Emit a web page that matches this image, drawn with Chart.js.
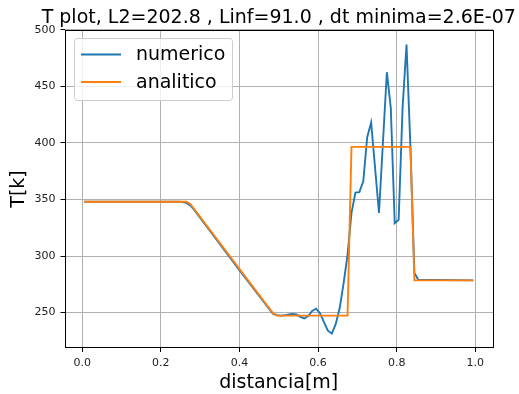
<!DOCTYPE html>
<html>
<head>
<meta charset="utf-8">
<script src="https://cdn.jsdelivr.net/npm/chart.js@4"></script>
<style>
  html, body { margin: 0; padding: 0; background: #fff; }
  canvas { display: block; }
</style>
</head>
<body>
<canvas id="grafico" width="519" height="394"></canvas>
<script>
// dados
var numericoX = [0.005, 0.245, 0.255, 0.265, 0.275, 0.285, 0.4, 0.485, 0.495, 0.505, 0.515, 0.525, 0.535, 0.545,
  0.555, 0.565, 0.575, 0.585, 0.595, 0.605, 0.615, 0.625, 0.635, 0.645, 0.655, 0.665, 0.675, 0.685, 0.695,
  0.705, 0.715, 0.725, 0.735, 0.755, 0.775, 0.785, 0.795, 0.805, 0.815, 0.825, 0.835, 0.845, 0.855, 0.995];
var numericoT = [348, 348, 347.7, 347, 344.8, 340.8, 287.5, 249, 247.8, 247.3, 247.6, 248.3, 248.8, 248.3,
  246.3, 244.8, 247, 251.5, 253.5, 249.5, 241.5, 234, 231.5, 240, 254, 276, 301, 338, 356,
  356.5, 366, 405, 418, 338, 462.5, 431, 329, 332, 431, 487, 396, 285, 279, 278.5];

var analiticoX = [0.005, 0.265, 0.275, 0.485, 0.495, 0.675, 0.685, 0.835, 0.845, 0.995];
var analiticoT = [348, 348, 346, 249.5, 247.3, 247.3, 396.5, 396.5, 278.5, 278.5];

var ticksX = [0.0, 0.2, 0.4, 0.6, 0.8, 1.0];
var ticksY = [250, 300, 350, 400, 450, 500];

var titulo = "T plot, L2=202.8 , Linf=91.0 , dt minima=2.6E-07";
var nomes = ["numerico", "analitico"];
var cores = ["#1f77b4", "#ff7f0e"];

function pontos(xs, ys) {
  return xs.map((x, i) => ({ x: x, y: ys[i] }));
}

Chart.defaults.font.family = "'DejaVu Sans', sans-serif";
Chart.defaults.color = "#000";

// titulo, moldura (4 lados) e legenda no estilo matplotlib
var molduraLegenda = {
  id: "molduraLegenda",
  afterDraw(chart) {
    var ctx = chart.ctx;
    var a = chart.chartArea;
    ctx.save();
    ctx.strokeStyle = "#000";
    ctx.lineWidth = 1;
    ctx.strokeRect(Math.round(a.left) + 0.5, Math.round(a.top) + 0.5,
      Math.round(a.right - a.left) - 1, Math.round(a.bottom - a.top) - 1);

    // titulo centrado sobre a area do grafico
    ctx.font = "19px 'DejaVu Sans'";
    ctx.fillStyle = "#000";
    ctx.textAlign = "center";
    ctx.textBaseline = "alphabetic";
    ctx.fillText(titulo, (a.left + a.right) / 2, 23);

    // caixa da legenda
    ctx.beginPath();
    ctx.roundRect(74.5, 38.5, 158, 62, 3);
    ctx.fillStyle = "rgba(255,255,255,0.8)";
    ctx.fill();
    ctx.strokeStyle = "#cccccc";
    ctx.stroke();

    ctx.textAlign = "left";
    ctx.textBaseline = "middle";
    for (var i = 0; i < nomes.length; i++) {
      var y = 54.5 + i * 27.5;
      ctx.beginPath();
      ctx.moveTo(81, y);
      ctx.lineTo(121, y);
      ctx.strokeStyle = cores[i];
      ctx.lineWidth = 1.9;
      ctx.stroke();
      ctx.fillStyle = "#000";
      ctx.fillText(nomes[i], 136, y + 1);
    }
    ctx.restore();
  },
};

new Chart(document.getElementById("grafico"), {
  type: "line",
  data: {
    datasets: [
      {
        label: nomes[0],
        data: pontos(numericoX, numericoT),
        borderColor: cores[0],
        backgroundColor: cores[0],
        borderWidth: 1.9,
        pointRadius: 0,
        tension: 0,
        order: 1,
      },
      {
        label: nomes[1],
        data: pontos(analiticoX, analiticoT),
        borderColor: cores[1],
        backgroundColor: cores[1],
        borderWidth: 1.9,
        pointRadius: 0,
        tension: 0,
        order: 0,
      },
    ],
  },
  options: {
    responsive: false,
    animation: false,
    devicePixelRatio: 1,
    layout: { padding: { left: 0, right: 26, top: 30, bottom: 0 } },
    plugins: {
      legend: { display: false },
      tooltip: { enabled: false },
      title: { display: false },
    },
    scales: {
      x: {
        type: "linear",
        min: -0.045,
        max: 1.045,
        afterBuildTicks: (s) => { s.ticks = ticksX.map((v) => ({ value: v })); },
        afterFit: (s) => { s.height = 46; },
        grid: { color: "#b0b0b0", lineWidth: 1, tickLength: 4, tickColor: "#000" },
        border: { display: false },
        ticks: { font: { size: 11 }, color: "#222", padding: 5, maxRotation: 0, callback: (v) => v.toFixed(1) },
        title: { display: true, text: "distancia[m]", font: { size: 19 }, color: "#000", padding: { top: 0, bottom: 0 } },
      },
      y: {
        min: 218.7,
        max: 499.8,
        afterBuildTicks: (s) => { s.ticks = ticksY.map((v) => ({ value: v })); },
        afterFit: (s) => { s.width = 64.5; },
        grid: { color: "#b0b0b0", lineWidth: 1, tickLength: 4, tickColor: "#000" },
        border: { display: false },
        ticks: { font: { size: 11 }, color: "#222", padding: 5 },
        title: { display: true, text: "T[k]", font: { size: 19 }, color: "#000", padding: { top: 8, bottom: 0 } },
      },
    },
  },
  plugins: [molduraLegenda],
});
</script>
</body>
</html>
